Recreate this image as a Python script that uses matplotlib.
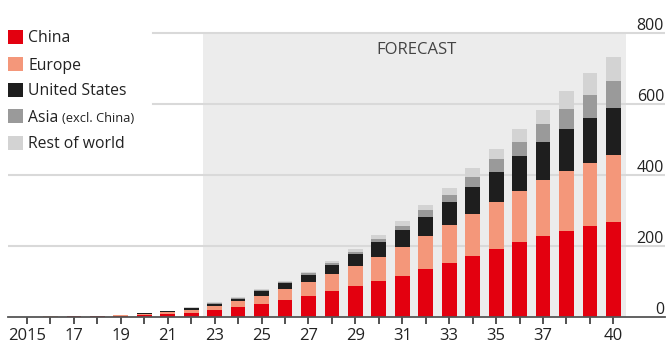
import matplotlib.pyplot as plt
from matplotlib.patches import Rectangle

plt.rcParams['font.family'] = ['Open Sans', 'DejaVu Sans']

years = list(range(2015, 2041))
china = [0.2, 0.4, 0.8, 1.5, 3, 5, 7.5, 10, 19, 26.5, 36, 47, 59, 72, 86, 100,
         115, 133, 151, 170, 190, 210, 227, 242, 255, 268]
europe = [0.1, 0.2, 0.4, 1.0, 1.8, 4, 6, 9, 11, 16.5, 23, 31, 40, 48, 58, 69,
          81, 93, 106, 119, 133, 145, 158, 169, 179, 187]
usa = [0.05, 0.1, 0.2, 0.3, 0.5, 1, 1.5, 4.5, 6, 8, 13, 16, 18, 26, 33, 41,
       48, 56, 66, 77, 85, 98, 108, 117, 125, 132]
asia = [0.05, 0.1, 0.2, 0.2, 0.4, 0.7, 1, 1.5, 2.5, 2.5, 3.5, 3, 5, 5, 6, 10,
        12, 18, 21, 28, 35, 40, 49, 57, 66, 78]
rest = [0.05, 0.1, 0.2, 0.2, 0.3, 0.6, 1, 1.5, 2, 2.5, 3.5, 3, 5, 5, 7, 10,
        14, 16, 19, 24, 29, 37, 40, 50, 61, 67]

series = [('China', china, '#e3000f'),
          ('Europe', europe, '#f4977a'),
          ('United States', usa, '#1e1e1e'),
          ('Asia', asia, '#9a9a9a'),
          ('Rest of world', rest, '#d3d3d3')]

grid_vals = [200, 400, 600, 800]
tick_years = [2015, 2017, 2019, 2021, 2023, 2025, 2027, 2029, 2031, 2033,
              2035, 2037, 2040]
tick_text = ['2015', '17', '19', '21', '23', '25', '27', '29', '31', '33',
             '35', '37', '40']

W, H = 666, 348
fig = plt.figure(figsize=(W / 100, H / 100), dpi=100)
ax = fig.add_axes([8 / W, 31.3 / H, 657 / W, 316.7 / H])
ax.set_xlim(2014.19, 2042.2)
ax.set_ylim(0, 892)

# forecast shading
ax.fill_between([2022.5, 2040.55], 0, 800, color='#ececec', lw=0, zorder=0)

# gridlines (legend box hides the left part of the top two)
for v in grid_vals:
    xmin = (153 - 8) / 657 if v >= 600 else 0
    ax.axhline(v, xmin=xmin, xmax=1, color='#d9d9d9', lw=1.5, zorder=1)

bottom = [0] * len(years)
for name, vals, col in series:
    ax.bar(years, vals, width=0.63, bottom=bottom, color=col, lw=0, zorder=2)
    bottom = [b + v for b, v in zip(bottom, vals)]

for s in ['top', 'left', 'right']:
    ax.spines[s].set_visible(False)
ax.spines['bottom'].set_color('#555555')
ax.spines['bottom'].set_linewidth(1.3)
ax.spines['bottom'].set_zorder(3)
ax.set_yticks([])
ax.set_xticks(years, minor=True)
ax.set_xticks(tick_years)
ax.set_xticklabels(tick_text, fontsize=12, color='#222222')
ax.tick_params(axis='x', which='both', length=5, width=1.2, color='#333333', pad=3)

for v in [0] + grid_vals:
    ax.text(0.9985, v + 7.5, str(v), transform=ax.get_yaxis_transform(),
            ha='right', va='baseline', fontsize=11.5, color='#222222')

ax.text(2031.6, 750, 'FORECAST', ha='center', va='center', fontsize=12,
        color='#444444')

# legend
ys = [37, 64, 90, 116.5, 143]
asia_t = None
for (name, vals, col), yc in zip(series, ys):
    fig.add_artist(Rectangle((8 / W, 1 - (yc + 7) / H), 15 / W, 14 / H,
                             transform=fig.transFigure, color=col, lw=0))
    t = fig.text(28 / W, 1 - (yc + 5.5) / H, name, fontsize=11.3,
                 color='#222222', va='baseline', ha='left')
    if name == 'Asia':
        asia_t = t

fig.canvas.draw()
bb = asia_t.get_window_extent()
fig.text((bb.x1 + 4) / W, 1 - (ys[3] + 5.5) / H, '(excl. China)', fontsize=9.3,
         color='#222222', va='baseline', ha='left')

fig.savefig('out.png', dpi=100)
